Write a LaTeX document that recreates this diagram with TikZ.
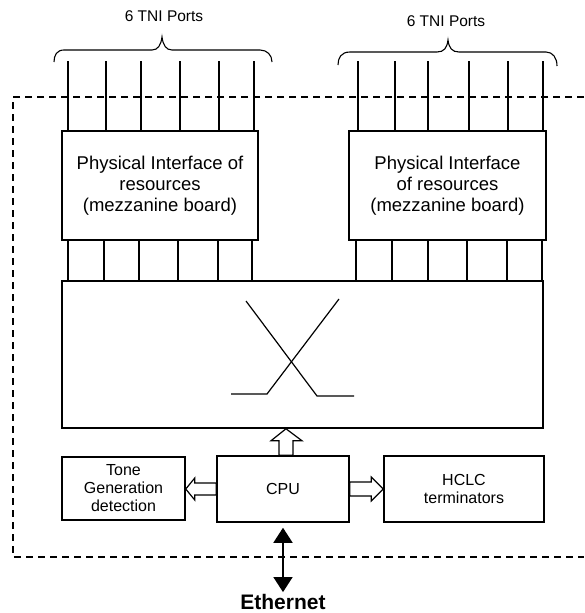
\documentclass[tikz,border=0pt]{standalone}
\usepackage{fontspec}
\setmainfont{Liberation Sans}
\usetikzlibrary{calc,arrows.meta}
\begin{document}
\begin{tikzpicture}[x=1pt,y=-1pt,
  box/.style={draw,line width=1.5pt,inner sep=0pt,align=center},
  bigtxt/.style={font=\fontsize{18.5}{21}\selectfont},
  smalltxt/.style={font=\fontsize{16}{18}\selectfont},
  portline/.style={line width=1.5pt},
  frame/.style={line width=1.4pt,dash pattern=on 7pt off 5pt},
  bracestyle/.style={line width=1.1pt},
  crossline/.style={line width=1.2pt},
  hollow/.style={draw,fill=white,line width=1.2pt,line join=miter},
  ethline/.style={line width=1.5pt,{Triangle[width=19pt,length=15pt]}-{Triangle[width=19pt,length=15pt]}}]
\useasboundingbox (0,0) rectangle (584,613);
% dashed frame
\draw[frame] (584,97) -- (13,97) -- (13,557) -- (584,557);
% boxes
\node[box,bigtxt,minimum width=196pt,minimum height=109pt] (pil) at (160,185.5) {Physical Interface of\\resources\\(mezzanine board)};
\node[box,bigtxt,minimum width=197pt,minimum height=109pt] (pir) at (447.5,185.5) {Physical Interface\\of resources\\(mezzanine board)};
\node[box,minimum width=481pt,minimum height=147pt] (sw) at (302.5,354.5) {};
\node[box,smalltxt,minimum width=123pt,minimum height=63pt] (tone) at (123.5,488.5) {Tone\\Generation\\detection};
\node[box,smalltxt,minimum width=132pt,minimum height=66pt] (cpu) at (283,489) {CPU};
\node[box,smalltxt,minimum width=160pt,minimum height=66pt] (hclc) at (464,489) {HCLC\\terminators};
% labels
\node[font=\fontsize{15.5}{18}\selectfont] (tnil) at (164,16) {6 TNI Ports};
\node[font=\fontsize{15.5}{18}\selectfont] (tnir) at (446,21.5) {6 TNI Ports};
\node[font=\fontsize{21}{24}\bfseries\selectfont,inner sep=0pt,anchor=base] (eth) at (283,609.5) {Ethernet};
% port lines
\foreach \x in {68,106,141,180,219,254} \draw[portline] (\x,61) -- (\x,0 |- pil.north);
\foreach \x in {358,395,428,469,508,543} \draw[portline] (\x,61) -- (\x,0 |- pir.north);
\foreach \x in {68,104,139,178,218,252} \draw[portline] (\x,0 |- pil.south) -- (\x,0 |- sw.north);
\foreach \x in {356,392,428,467,507,542} \draw[portline] (\x,0 |- pir.south) -- (\x,0 |- sw.north);
% braces
\draw[bracestyle] (54,62) .. controls (54,55) and (57,50) .. (64,50) -- (152,50)
  .. controls (158,50) and (161,45) .. (162,37) .. controls (163,45) and (166,50) .. (172,50)
  -- (260,50) .. controls (267,50) and (272,55) .. (272,62);
\draw[bracestyle] (338,65) .. controls (338,58) and (341,52) .. (350,52) -- (437,52)
  .. controls (444,52) and (447,48) .. (448,40) .. controls (449,48) and (452,52) .. (459,52)
  -- (546,52) .. controls (553,52) and (557,58) .. (557,66);
% cross
\draw[crossline] (246,301) -- (317,396) -- (354,396);
\draw[crossline] (339,299) -- (267,394) -- (231,394);
% hollow arrows
\coordinate (ua) at ($(cpu.north)+(3,0)$);
\draw[hollow] ($(ua)+(-7,0)$) -- ($(ua |- sw.south)+(-7,12)$) -- ++(-8,0) -- (ua |- sw.south) -- ++(16,12) -- ++(-9,0) -- ($(ua)+(7,0)$) -- cycle;
\draw[hollow] ($(cpu.west)+(0,-6)$) -- ($(tone.east |- cpu.west)+(9,-6)$) -- ++(0,-5) -- (tone.east |- cpu.west) -- ++(9,11) -- ++(0,-5) -- ($(cpu.west)+(0,6)$) -- cycle;
\draw[hollow] ($(cpu.east)+(0,-7)$) -- ($(hclc.west |- cpu.east)+(-12,-7)$) -- ++(0,-5) -- (hclc.west |- cpu.east) -- ++(-12,12) -- ++(0,-5) -- ($(cpu.east)+(0,7)$) -- cycle;
% ethernet
\draw[ethline] ([yshift=-5pt]cpu.south) -- ([yshift=2pt]eth.north);
\end{tikzpicture}
\end{document}
